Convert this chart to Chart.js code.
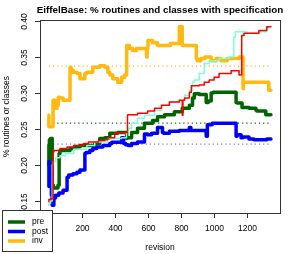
<!DOCTYPE html>
<html>
<head>
<meta charset="utf-8">
<script src="https://cdn.jsdelivr.net/npm/chart.js@4.4.1/dist/chart.umd.min.js"></script>
<style>
  html, body { margin: 0; padding: 0; background: #fff; }
  canvas { display: block; }
</style>
</head>
<body>
<canvas id="specChart" width="294" height="254"></canvas>
<script>
// revisions and shares
const invRev = [0, 7, 25, 37, 49, 57, 67, 86, 110, 128, 134, 146, 170, 188, 200, 218, 230, 266, 278, 308, 339, 357, 369, 387, 417, 441, 459, 471, 476, 489, 507, 531, 549, 592, 595, 600, 610, 628, 658, 670, 736, 790, 800, 808, 812, 893, 899, 920, 945, 983, 1013, 1043, 1080, 1110, 1152, 1176, 1178, 1188, 1272, 1332, 1340, 1345];
const invVal = [0.269, 0.253, 0.253, 0.29, 0.279, 0.283, 0.294, 0.293, 0.29, 0.29, 0.336, 0.332, 0.329, 0.327, 0.32, 0.32, 0.327, 0.329, 0.336, 0.336, 0.338, 0.336, 0.329, 0.325, 0.32, 0.315, 0.322, 0.325, 0.366, 0.366, 0.362, 0.359, 0.362, 0.362, 0.35, 0.362, 0.373, 0.373, 0.37, 0.366, 0.366, 0.369, 0.392, 0.392, 0.366, 0.366, 0.348, 0.345, 0.348, 0.35, 0.345, 0.348, 0.345, 0.348, 0.348, 0.35, 0.306, 0.315, 0.315, 0.315, 0.304, 0.304];

const preRev = [0, 3, 10, 20, 27, 55, 62, 67, 128, 158, 188, 218, 278, 308, 339, 369, 417, 459, 471, 474, 501, 537, 579, 628, 658, 701, 760, 808, 851, 870, 881, 911, 953, 965, 983, 995, 1110, 1134, 1140, 1170, 1212, 1254, 1260, 1314, 1345];
const preVal = [0.2, 0.228, 0.235, 0.237, 0.172, 0.168, 0.172, 0.216, 0.22, 0.223, 0.225, 0.227, 0.227, 0.23, 0.237, 0.238, 0.244, 0.245, 0.245, 0.237, 0.238, 0.245, 0.251, 0.258, 0.262, 0.267, 0.27, 0.274, 0.279, 0.283, 0.293, 0.299, 0.298, 0.287, 0.289, 0.3, 0.301, 0.301, 0.287, 0.286, 0.28, 0.279, 0.276, 0.275, 0.27];

const postRev = [0, 3, 15, 20, 30, 40, 60, 86, 110, 120, 146, 170, 188, 218, 225, 248, 266, 290, 327, 369, 381, 441, 453, 465, 480, 501, 537, 579, 598, 622, 658, 688, 695, 730, 790, 851, 860, 866, 953, 960, 989, 1134, 1140, 1164, 1176, 1212, 1242, 1254, 1320, 1345];
const postVal = [0.17, 0.205, 0.19, 0.158, 0.144, 0.154, 0.158, 0.161, 0.165, 0.183, 0.186, 0.188, 0.19, 0.193, 0.216, 0.2175, 0.22, 0.223, 0.225, 0.227, 0.23, 0.2315, 0.238, 0.23, 0.228, 0.227, 0.23, 0.232, 0.243, 0.242, 0.244, 0.252, 0.245, 0.244, 0.247, 0.248, 0.252, 0.248, 0.248, 0.24, 0.256, 0.258, 0.24, 0.242, 0.238, 0.239, 0.236, 0.235, 0.235, 0.236];

const redRev = [0, 10, 25, 30, 67, 110, 150, 210, 240, 300, 339, 357, 399, 459, 476, 478, 537, 598, 640, 682, 730, 790, 808, 812, 822, 851, 863, 911, 941, 971, 1001, 1031, 1104, 1152, 1168, 1182, 1200, 1272, 1320, 1340, 1345];
const redVal = [0.149, 0.152, 0.153, 0.218, 0.22, 0.223, 0.225, 0.227, 0.23, 0.232, 0.234, 0.235, 0.238, 0.244, 0.245, 0.269, 0.27, 0.272, 0.275, 0.279, 0.283, 0.2875, 0.29, 0.269, 0.29, 0.293, 0.301, 0.31, 0.311, 0.315, 0.318, 0.322, 0.327, 0.331, 0.325, 0.38, 0.383, 0.383, 0.387, 0.392, 0.392];

const aquaRev = [0, 10, 20, 25, 40, 67, 100, 150, 230, 278, 357, 441, 470, 480, 501, 537, 579, 640, 682, 730, 790, 821, 851, 870, 881, 911, 941, 971, 1031, 1092, 1120, 1130, 1160, 1200, 1272, 1320, 1340, 1345];
const aquaVal = [0.144, 0.147, 0.15, 0.2, 0.205, 0.21, 0.213, 0.216, 0.222, 0.227, 0.232, 0.237, 0.238, 0.245, 0.251, 0.258, 0.265, 0.269, 0.276, 0.283, 0.2875, 0.29, 0.297, 0.304, 0.315, 0.318, 0.327, 0.341, 0.345, 0.348, 0.35, 0.378, 0.385, 0.385, 0.383, 0.385, 0.392, 0.392];

// dotted mean levels
const meanInv = 0.3375;
const meanPre = 0.2583;
const meanPost = 0.229;

const xTicks = [0, 200, 400, 600, 800, 1000, 1200];
const yTicks = [0.15, 0.20, 0.25, 0.30, 0.35, 0.40];
const legendNames = ["pre", "post", "inv"];
const legendColors = ["#006400", "#0000ff", "#ffb90f"];

const FONT = '"Liberation Sans", Arial, Helvetica, sans-serif';

function pts(xs, ys) {
  return xs.map((x, i) => ({ x: x, y: ys[i] }));
}

function meanLine(v) {
  return [{ x: 0, y: v }, { x: 1340, y: v }];
}

function series(label, xs, ys, color, width) {
  return {
    label: label,
    data: pts(xs, ys),
    borderColor: color,
    borderWidth: width,
    stepped: "after",
    borderCapStyle: "round",
    borderJoinStyle: "round",
    pointRadius: 0
  };
}

function dotted(v, color) {
  return {
    data: meanLine(v),
    borderColor: color,
    borderWidth: 1.2,
    borderDash: [1.2, 3],
    pointRadius: 0
  };
}

// R-style box, ticks, titles and legend
const rLook = {
  id: "rLook",
  afterDraw(chart) {
    const ctx = chart.ctx;
    const a = chart.chartArea;
    const xs = chart.scales.x, ys = chart.scales.y;
    ctx.save();
    ctx.strokeStyle = "#333";
    ctx.lineWidth = 1;
    ctx.strokeRect(a.left + 0.5, a.top + 0.5, a.right - a.left, a.bottom - a.top);

    ctx.fillStyle = "#000";
    ctx.font = "8.5px " + FONT;
    ctx.textAlign = "center";
    ctx.textBaseline = "middle";
    xTicks.forEach(t => {
      const px = Math.round(xs.getPixelForValue(t)) + 0.5;
      ctx.beginPath();
      ctx.moveTo(px, a.bottom);
      ctx.lineTo(px, a.bottom + 5);
      ctx.stroke();
      ctx.fillText(String(t), px, a.bottom + 16);
    });
    yTicks.forEach(t => {
      const py = Math.round(ys.getPixelForValue(t)) + 0.5;
      ctx.beginPath();
      ctx.moveTo(a.left, py);
      ctx.lineTo(a.left - 5, py);
      ctx.stroke();
      ctx.save();
      ctx.translate(a.left - 15, py);
      ctx.rotate(-Math.PI / 2);
      ctx.fillText(t.toFixed(2), 0, 0);
      ctx.restore();
    });

    ctx.fillText("revision", (a.left + a.right) / 2, 248);
    ctx.save();
    ctx.translate(7, (a.top + a.bottom) / 2);
    ctx.rotate(-Math.PI / 2);
    ctx.fillText("% routines or classes", 0, 0);
    ctx.restore();

    ctx.font = "bold 9.8px " + FONT;
    ctx.fillText("EiffelBase: % routines and classes with specification", (a.left + a.right) / 2, 10);

    // legend box bottom-left
    ctx.fillStyle = "#fff";
    ctx.fillRect(2.5, 210.5, 50, 41);
    ctx.strokeStyle = "#333";
    ctx.strokeRect(2.5, 210.5, 50, 41);
    ctx.font = "8.5px " + FONT;
    ctx.textAlign = "left";
    legendNames.forEach((name, i) => {
      const ly = 222 + i * 9.5;
      ctx.strokeStyle = legendColors[i];
      ctx.lineWidth = 3.5;
      ctx.beginPath();
      ctx.moveTo(8, ly);
      ctx.lineTo(25, ly);
      ctx.stroke();
      ctx.fillStyle = "#000";
      ctx.fillText(name, 32, ly);
    });
    ctx.restore();
  }
};

new Chart(document.getElementById("specChart"), {
  type: "line",
  data: {
    datasets: [
      series("classes inv", redRev, redVal, "#ff0000", 1.5),
      series("classes", aquaRev, aquaVal, "#7fffd4", 1.5),
      series("inv", invRev, invVal, "#ffb90f", 3.5),
      series("post", postRev, postVal, "#0000ff", 3.5),
      series("pre", preRev, preVal, "#006400", 3.5),
      dotted(meanInv, "#ffb90f"),
      dotted(meanPre, "#006400"),
      dotted(meanPost, "rgba(0,0,255,0.55)")
    ]
  },
  options: {
    responsive: false,
    animation: false,
    layout: { padding: { left: 40, top: 20, right: 14, bottom: 41 } },
    scales: {
      x: { type: "linear", min: -54, max: 1400, display: false },
      y: { type: "linear", min: 0.1333, max: 0.4015, display: false }
    },
    plugins: {
      legend: { display: false },
      tooltip: { enabled: false }
    }
  },
  plugins: [rLook]
});
</script>
</body>
</html>
